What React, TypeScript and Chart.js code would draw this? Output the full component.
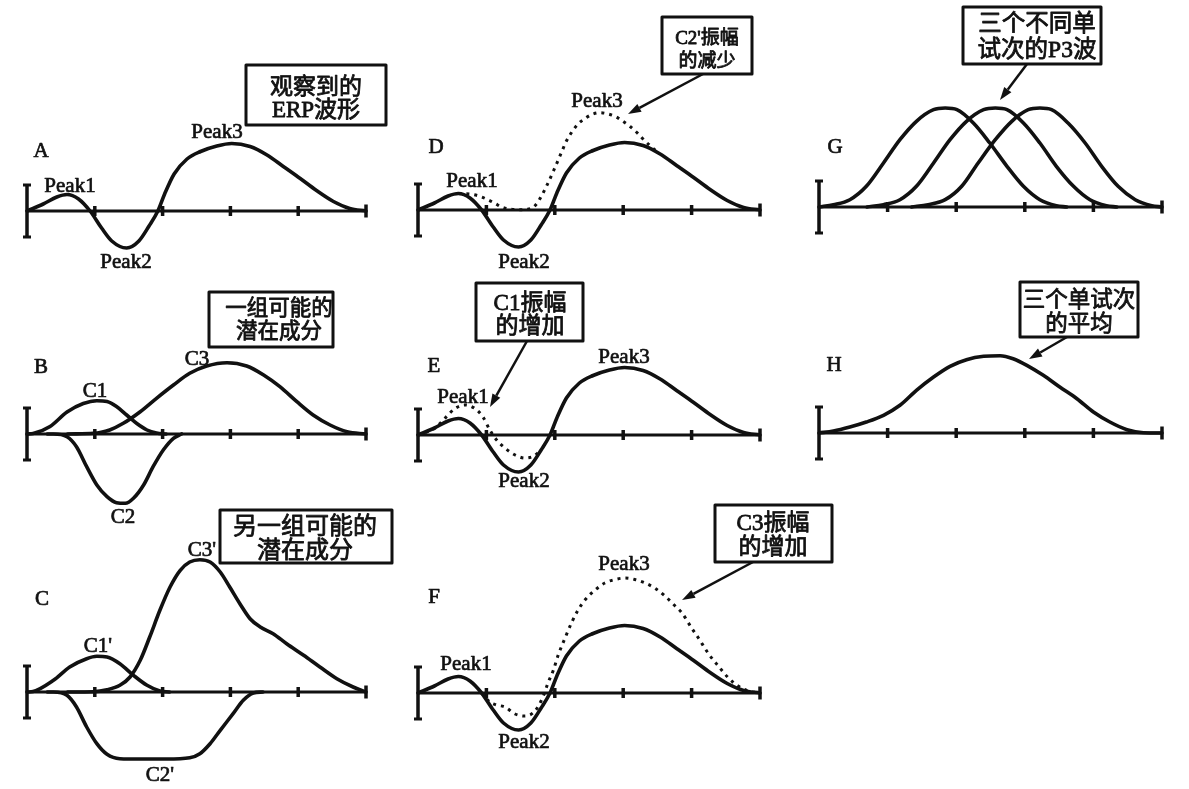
import React, { useEffect, useRef } from "react";
import { Chart, registerables } from "chart.js";

Chart.register(...registerables);

type Pt = [number, number];

// ---- Data (time in ms, amplitude in arbitrary units; positive = up) ----
const TICK_TIMES = [0, 100, 200, 300, 400, 500];
const SCALE_BAR = [26, -26];

// Observed ERP waveform (A, and solid line in D/E/F)
const erpObserved: Pt[] = [
  [0, 0], [24, 7], [44, 14], [59, 16.5], [76, 12], [93, 0], [110, -17], [125, -30],
  [147, -37], [165, -30], [180, -15], [193, 0], [203, 17], [217, 37], [236, 52],
  [256, 59.5], [280, 65], [302, 67.5], [329, 64.5], [354, 56], [378, 44.5],
  [403, 32.5], [427, 20.5], [452, 9.5], [476, 2.5], [500, 0],
];

// B: one set of possible latent components
const compC1: Pt[] = [
  [0, 0], [9, 0.5], [34, 7.5], [59, 22], [83, 30.5], [103, 33.3], [118, 32.5],
  [132, 27.5], [147, 19], [162, 10.5], [177, 4], [191, 1], [205, 0],
];
const compC2: Pt[] = [
  [30, 0], [39, 0], [59, -2.7], [73, -12.7], [88, -32.7], [103, -51], [118, -62.7],
  [132, -68.7], [145, -69.3], [157, -64.3], [172, -51], [186, -32.7], [201, -16],
  [216, -4.3], [228, 0],
];
const compC3: Pt[] = [
  [60, 0], [98, 0.7], [108, 1.5], [122, 4], [142, 10.7], [167, 22.3], [191, 35.7],
  [216, 49], [240, 60.7], [265, 68], [295, 71.3], [324, 68], [349, 59], [373, 47.3],
  [398, 32.3], [422, 19], [447, 9], [472, 2.3], [500, 0],
];

// C: another set of possible latent components
const altC1: Pt[] = [
  [0, 0], [9, 0.5], [39, 11.7], [63, 25], [88, 33.3], [103, 35.7], [118, 35],
  [137, 28.3], [157, 16.7], [177, 6.7], [196, 1], [210, 0],
];
const altC2: Pt[] = [
  [30, 0], [39, 0], [59, -3.3], [73, -15], [88, -35], [103, -51.7], [118, -62.3],
  [137, -66.7], [167, -67], [206, -67], [240, -65.7], [255, -61.7], [270, -51.7],
  [285, -38.3], [304, -21.7], [319, -8.3], [334, -1], [348, 0],
];
const altC3: Pt[] = [
  [60, 0], [98, 0.3], [118, 2.3], [137, 6.7], [152, 15], [167, 31.7], [181, 55],
  [196, 81.7], [211, 105], [226, 121.7], [240, 130], [255, 132.3], [270, 130],
  [285, 120], [299, 105], [314, 88.3], [329, 73.3], [344, 65], [363, 58.3],
  [383, 48.3], [408, 36.7], [432, 25], [457, 13.3], [481, 5], [500, 0],
];

// D: reduced C2' amplitude (dotted)
const erpReducedC2: Pt[] = [
  [59, 16.5], [80, 15.5], [93, 13], [103, 10], [113, 6.5], [122, 3], [135, 0.8],
  [150, 0.3], [162, 1], [170, 3.5], [178, 11], [188, 24], [198, 39], [210, 58],
  [217, 69], [225, 78], [234, 86], [244, 91.5], [254, 95.5], [266, 97.3], [278, 96],
  [290, 93], [300, 88.5], [310, 83.5], [320, 77.5], [329, 71], [339, 64.5], [350, 58],
];

// E: increased C1 amplitude (dotted)
const erpLargerC1: Pt[] = [
  [0, 0], [25, 7], [39, 16.5], [54, 26.5], [69, 30], [83, 26.5], [95, 18], [105, 5],
  [115, -5], [127, -13], [142, -20], [156, -23], [168, -21.5], [180, -15],
];

// F: increased C3 amplitude (dotted)
const erpLargerC3: Pt[] = [
  [93, 0], [105, -9], [115, -12], [127, -14], [142, -21], [156, -23], [171, -18],
  [183, -3.5], [190, 10], [198, 23], [205, 38], [215, 55], [225, 71], [234, 83],
  [244, 93], [259, 103], [273, 110], [288, 113.5], [303, 115], [317, 113.5],
  [332, 110], [346, 105], [361, 97], [376, 87], [386, 80], [400, 65], [410, 55],
  [424, 40], [439, 27], [454, 15], [468, 7], [483, 2], [500, 0],
];

// G: three single-trial P3 waves
const trial1: Pt[] = [
  [0, 0], [21, 2.3], [45, 7.3], [69, 20.7], [94, 44], [118, 67.3], [142, 85.7],
  [167, 97.3], [184, 99], [201, 97.3], [225, 84], [249, 64], [274, 40.7], [298, 20.7],
  [322, 7.3], [346, 1.3], [361, 0],
];
const trial2: Pt[] = [
  [70, 0], [94, 2.3], [118, 7.3], [142, 20.7], [167, 44], [191, 67.3], [215, 85.7],
  [240, 97.3], [257, 99], [274, 97.3], [298, 84], [322, 64], [346, 40.7], [371, 20.7],
  [395, 7.3], [419, 1.3], [434, 0],
];
const trial3: Pt[] = [
  [135, 0], [159, 2.3], [184, 7.3], [208, 20.7], [232, 44], [257, 67.3], [281, 85.7],
  [305, 97.3], [322, 99], [339, 97.3], [363, 84], [388, 64], [412, 40.7], [436, 20.7],
  [461, 7.3], [485, 1.3], [500, 0],
];

// H: average of the three single trials
const trialAverage: Pt[] = [
  [0, 0], [21, 2], [45, 6], [69, 11], [94, 17.7], [118, 27.7], [142, 42.7], [167, 56],
  [191, 66.7], [215, 73.3], [240, 76.7], [264, 77.3], [283, 74.3], [303, 67.7],
  [327, 57.7], [351, 46], [376, 34.3], [400, 21], [424, 11], [449, 3.3], [473, 0.3],
  [500, 0],
];

// ---- Layout (page pixels) ----
const W = 1189;
const H = 789;
const COLUMNS: Record<number, { left: number; right: number }> = {
  1: { left: 27, right: 366 },
  2: { left: 418, right: 760 },
  3: { left: 819, right: 1162 },
};

const PANELS = [
  { id: "A", col: 1, baseline: 211, solid: [erpObserved], dotted: [] as Pt[][] },
  { id: "B", col: 1, baseline: 434, solid: [compC1, compC2, compC3], dotted: [] as Pt[][] },
  { id: "C", col: 1, baseline: 692, solid: [altC1, altC2, altC3], dotted: [] as Pt[][] },
  { id: "D", col: 2, baseline: 210, solid: [erpObserved], dotted: [erpReducedC2] },
  { id: "E", col: 2, baseline: 435, solid: [erpObserved], dotted: [erpLargerC1] },
  { id: "F", col: 2, baseline: 693, solid: [erpObserved], dotted: [erpLargerC3] },
  { id: "G", col: 3, baseline: 207, solid: [trial1, trial2, trial3], dotted: [] as Pt[][] },
  { id: "H", col: 3, baseline: 433, solid: [trialAverage], dotted: [] as Pt[][] },
];

const LABELS: [string, number, number][] = [
  ["A", 41, 157], ["Peak1", 70, 192], ["Peak2", 126, 268], ["Peak3", 217, 138],
  ["B", 41, 373], ["C1", 95, 397], ["C2", 123, 523], ["C3", 197, 365],
  ["C", 42, 605], ["C1'", 98, 652], ["C2'", 160, 781], ["C3'", 202, 556],
  ["D", 436, 153], ["Peak1", 472, 187], ["Peak2", 524, 268], ["Peak3", 597, 107],
  ["E", 434, 372], ["Peak1", 463, 403], ["Peak2", 524, 487], ["Peak3", 624, 363],
  ["F", 434, 603], ["Peak1", 466, 670], ["Peak2", 524, 748], ["Peak3", 624, 570],
  ["G", 835, 153], ["H", 834, 371],
];

type Note = {
  rect: [number, number, number, number];
  cx: number;
  size: number;
  lines: [string, number][];
  arrow?: [number, number, number, number];
};

const NOTES: Note[] = [
  { rect: [246, 65, 386, 125], cx: 316, size: 23, lines: [["观察到的", 94], ["ERP波形", 117]] },
  { rect: [209, 292, 333, 347], cx: 279, size: 21.5, lines: [["一组可能的", 315], ["潜在成分", 338]] },
  { rect: [220, 510, 392, 563], cx: 305, size: 24, lines: [["另一组可能的", 534], ["潜在成分", 558]] },
  { rect: [662, 17, 752, 74], cx: 707, size: 19, lines: [["C2'振幅", 44], ["的减少", 67]], arrow: [703, 74, 628, 114] },
  { rect: [476, 283, 583, 341], cx: 530, size: 23, lines: [["C1振幅", 310], ["的增加", 333]], arrow: [527, 341, 490, 407] },
  { rect: [715, 505, 832, 562], cx: 773, size: 23, lines: [["C3振幅", 530], ["的增加", 554]], arrow: [753, 562, 682, 600] },
  { rect: [963, 7, 1101, 64], cx: 1037, size: 23.5, lines: [["三个不同单", 31], ["试次的P3波", 57]], arrow: [1027, 64, 1000, 100] },
  { rect: [1020, 282, 1138, 337], cx: 1079, size: 22.5, lines: [["三个单试次", 307], ["的平均", 331]], arrow: [1067, 337, 1029, 359] },
];

const INK = "#111111";
const LATIN_FONT = '21px "Liberation Serif", "Times New Roman", serif';
const noteFont = (size: number) => `${size}px "Liberation Serif", "Noto Sans CJK SC", serif`;

const heavyText = (ctx: CanvasRenderingContext2D, t: string, x: number, y: number, w: number) => {
  ctx.lineWidth = w;
  ctx.strokeText(t, x, y);
  ctx.fillText(t, x, y);
};

const annotationPlugin = {
  id: "figureAnnotations",
  afterDraw(chart: any) {
    const ctx: CanvasRenderingContext2D = chart.ctx;
    ctx.save();
    ctx.fillStyle = INK;
    ctx.strokeStyle = INK;
    ctx.lineJoin = "round";
    ctx.textAlign = "center";
    ctx.textBaseline = "alphabetic";
    ctx.font = LATIN_FONT;
    LABELS.forEach(([t, x, y]) => heavyText(ctx, t, x, y, 0.7));

    NOTES.forEach((n) => {
      const [x0, y0, x1, y1] = n.rect;
      ctx.fillStyle = "#ffffff";
      ctx.fillRect(x0, y0, x1 - x0, y1 - y0);
      ctx.lineWidth = 3;
      ctx.strokeStyle = INK;
      ctx.strokeRect(x0, y0, x1 - x0, y1 - y0);
      ctx.fillStyle = INK;
      ctx.font = noteFont(n.size);
      n.lines.forEach(([t, y]) => heavyText(ctx, t, n.cx, y, 0.8));
      if (n.arrow) {
        const [ax, ay, bx, by] = n.arrow;
        const ang = Math.atan2(by - ay, bx - ax);
        const len = 13;
        const hw = 4.5;
        const baseX = bx - Math.cos(ang) * len;
        const baseY = by - Math.sin(ang) * len;
        ctx.lineWidth = 2.5;
        ctx.beginPath();
        ctx.moveTo(ax, ay);
        ctx.lineTo(baseX, baseY);
        ctx.stroke();
        ctx.beginPath();
        ctx.moveTo(bx, by);
        ctx.lineTo(baseX + Math.sin(ang) * hw, baseY - Math.cos(ang) * hw);
        ctx.lineTo(baseX - Math.sin(ang) * hw, baseY + Math.cos(ang) * hw);
        ctx.closePath();
        ctx.fill();
      }
    });
    ctx.restore();
  },
};

const toXY = (pts: Pt[]) => pts.map(([x, y]) => ({ x, y }));

export default function App() {
  const ref = useRef<HTMLCanvasElement>(null);

  useEffect(() => {
    const canvas = ref.current;
    if (!canvas) return;
    const scales: any = {};
    const datasets: any[] = [];
    const lastTick = TICK_TIMES[TICK_TIMES.length - 1];

    PANELS.forEach((p) => {
      const col = COLUMNS[p.col];
      const k = (col.right - col.left) / (lastTick - TICK_TIMES[0]);
      const xid = "x" + p.id;
      const yid = "y" + p.id;
      scales[xid] = {
        type: "linear", axis: "x", display: false, bounds: "data",
        min: TICK_TIMES[0] - col.left / k, max: TICK_TIMES[0] + (W - col.left) / k,
      };
      scales[yid] = {
        type: "linear", axis: "y", display: false, bounds: "data",
        min: p.baseline - H, max: p.baseline,
      };
      p.solid.forEach((s) =>
        datasets.push({
          data: toXY(s), xAxisID: xid, yAxisID: yid, order: 0,
          borderColor: INK, borderWidth: 3.6, pointRadius: 0,
          cubicInterpolationMode: "monotone", borderCapStyle: "round", borderJoinStyle: "round",
          fill: false,
        })
      );
      p.dotted.forEach((s) =>
        datasets.push({
          data: toXY(s), xAxisID: xid, yAxisID: yid, order: 1,
          borderColor: INK, borderWidth: 3, pointRadius: 0, borderDash: [3, 5],
          cubicInterpolationMode: "monotone", fill: false,
        })
      );
      // baseline with tick marks
      datasets.push({
        data: TICK_TIMES.map((t) => ({ x: t, y: 0 })), xAxisID: xid, yAxisID: yid, order: 2,
        borderColor: INK, borderWidth: 3, tension: 0,
        pointStyle: "line", pointRotation: 90, pointBorderWidth: 3.5, pointBorderColor: INK,
        pointRadius: TICK_TIMES.map((_, i) => (i === 0 ? 0 : i === TICK_TIMES.length - 1 ? 6.5 : 5)),
        fill: false,
      });
      // amplitude scale bar
      datasets.push({
        data: SCALE_BAR.map((v) => ({ x: TICK_TIMES[0], y: v })), xAxisID: xid, yAxisID: yid, order: 2,
        borderColor: INK, borderWidth: 3.5, tension: 0,
        pointStyle: "line", pointRotation: 0, pointBorderWidth: 3, pointBorderColor: INK, pointRadius: 4,
        fill: false,
      });
    });

    const chart = new Chart(canvas, {
      type: "line",
      data: { datasets },
      options: {
        animation: false,
        responsive: false,
        devicePixelRatio: 1,
        events: [],
        layout: { padding: 0, autoPadding: false },
        scales,
        plugins: { legend: { display: false }, tooltip: { enabled: false }, title: { display: false } },
      },
      plugins: [annotationPlugin],
    } as any);

    return () => chart.destroy();
  }, []);

  return (
    <div style={{ position: "fixed", left: 0, top: 0, width: W, height: H, background: "#ffffff" }}>
      <canvas ref={ref} width={W} height={H} style={{ display: "block" }} />
    </div>
  );
}
